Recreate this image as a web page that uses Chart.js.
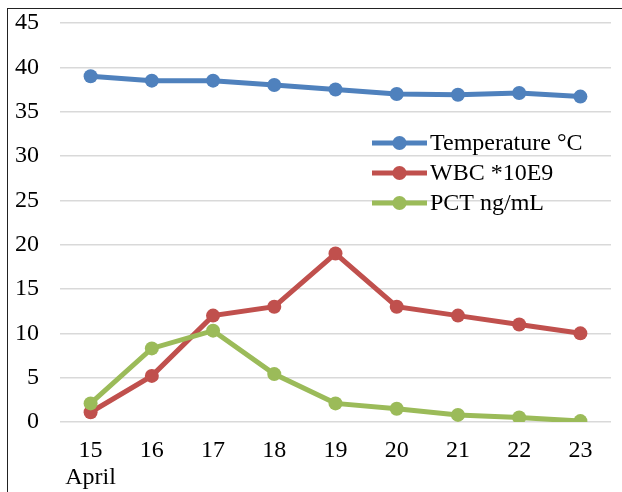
<!DOCTYPE html>
<html>
<head>
<meta charset="utf-8">
<script src="https://cdn.jsdelivr.net/npm/chart.js@4"></script>
<style>
  html, body { margin: 0; padding: 0; background: #fff; }
  #wrap { position: relative; width: 622px; height: 492px; }
  #frame { position: absolute; left: 7px; top: 8px; right: -2px; bottom: -2px;
           border-left: 1.5px solid #222; border-top: 1.5px solid #222; }
  canvas { position: absolute; left: 0; top: 0; }
</style>
</head>
<body>
<div id="wrap">
  <div id="frame"></div>
  <canvas id="chart" width="622" height="492"></canvas>
</div>
<script>
const days = [["15", "April"], "16", "17", "18", "19", "20", "21", "22", "23"];
const temperature = [39, 38.5, 38.5, 38, 37.5, 37, 36.9, 37.1, 36.7];
const wbc = [1.1, 5.2, 12, 13, 19, 13, 12, 11, 10];
const pct = [2.1, 8.3, 10.3, 5.4, 2.1, 1.5, 0.8, 0.5, 0.1];

const fontFamily = '"Liberation Serif", "Times New Roman", serif';

const series = [
    { label: "Temperature \u00B0C", data: temperature, color: "#4F81BD", order: 3 },
    { label: "WBC *10E9", data: wbc, color: "#C0504D", order: 2 },
    { label: "PCT ng/mL", data: pct, color: "#9BBB59", order: 1 },
];

// legend drawn inside the plot, line + marker like the original
const insideLegend = {
    id: "insideLegend",
    afterDraw(chart) {
        const ctx = chart.ctx;
        const x0 = 372, y0 = 143, gap = 30;
        ctx.save();
        ctx.font = "24px " + fontFamily;
        ctx.textBaseline = "middle";
        chart.data.datasets.forEach((ds, i) => {
            const y = y0 + i * gap;
            ctx.strokeStyle = ds.borderColor;
            ctx.lineWidth = 5;
            ctx.beginPath();
            ctx.moveTo(x0, y);
            ctx.lineTo(x0 + 55, y);
            ctx.stroke();
            ctx.fillStyle = ds.borderColor;
            ctx.beginPath();
            ctx.arc(x0 + 27.5, y, 7, 0, Math.PI * 2);
            ctx.fill();
            ctx.fillStyle = "#000";
            ctx.fillText(ds.label, x0 + 58, y + 1);
        });
        ctx.restore();
    }
};

const config = {
    type: "line",
    data: {
        labels: days,
        datasets: series.map(s => ({
            label: s.label,
            data: s.data,
            order: s.order,
            borderColor: s.color,
            backgroundColor: s.color,
            pointBackgroundColor: s.color,
            pointBorderColor: s.color,
            borderWidth: 5,
            pointRadius: 7,
            pointBorderWidth: 0,
            tension: 0,
        })),
    },
    options: {
        responsive: false,
        animation: false,
        layout: {
            padding: { left: 0, top: 23, right: 11, bottom: 0 }
        },
        plugins: {
            legend: { display: false },
            tooltip: { enabled: false },
        },
        scales: {
            x: {
                offset: true,
                grid: { display: false },
                border: { display: false },
                ticks: {
                    color: "#000",
                    padding: 7,
                    maxRotation: 0,
                    font: { family: fontFamily, size: 24, lineHeight: 1.12 },
                },
                afterFit(scale) { scale.height = 70; },
            },
            y: {
                min: 0,
                max: 45,
                ticks: {
                    stepSize: 5,
                    color: "#000",
                    padding: 21,
                    font: { family: fontFamily, size: 24 },
                },
                grid: { color: "#d9d9d9", lineWidth: 1.5, drawTicks: false },
                border: { display: false },
                afterFit(scale) {
                    scale.width = 60;
                    scale.paddingTop = 0;
                    scale.paddingBottom = 0;
                },
            },
        },
    },
    plugins: [insideLegend],
};

new Chart(document.getElementById("chart"), config);
</script>
</body>
</html>
